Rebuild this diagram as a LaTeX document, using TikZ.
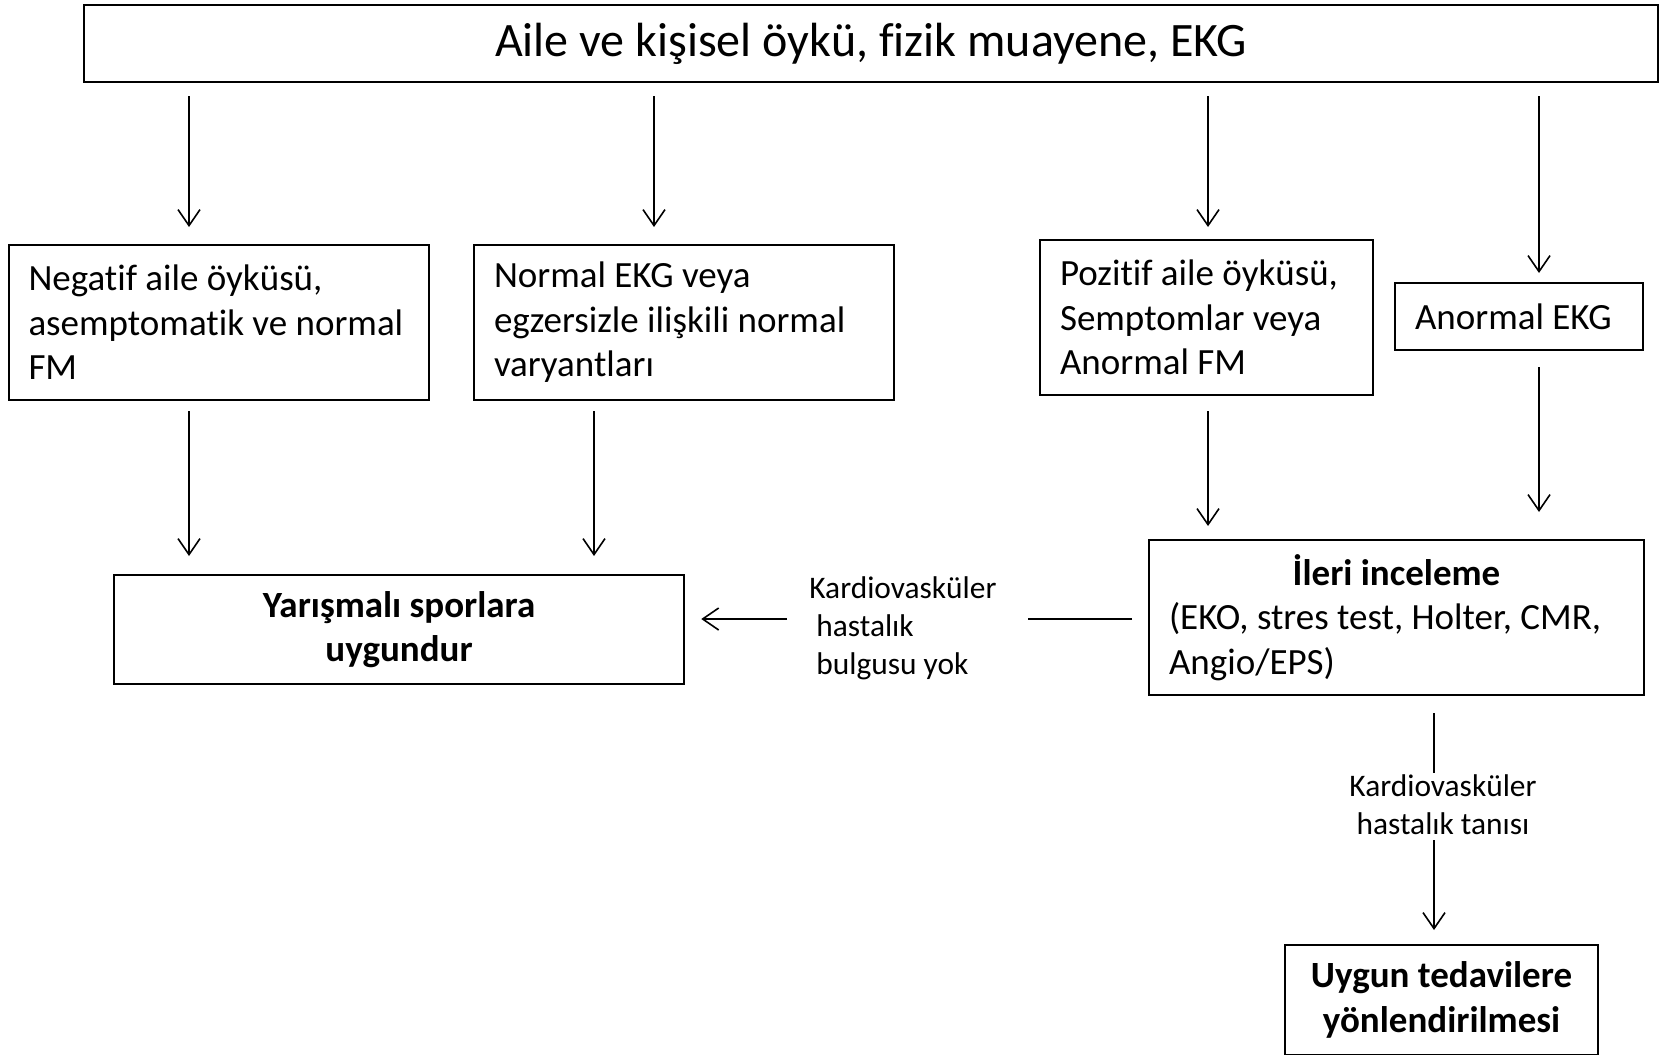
\documentclass[tikz,border=0pt]{standalone}
\usepackage{fontspec}
\setmainfont{Carlito}[Ligatures=CommonOff]
\usetikzlibrary{arrows.meta, calc}

\begin{document}
\begin{tikzpicture}[x=0.5pt, y={(0pt,-0.5pt)}, >={Straight Barb[length=8pt,width=11pt]}, font=\fontsize{18.5}{22.25}\selectfont]
	\tikzstyle{box} = [draw=black, line width=1pt, rectangle, inner xsep=10pt, inner ysep=0pt, align=flush left]
	\tikzstyle{link} = [line width=0.8pt]
	\tikzstyle{lbl} = [inner sep=0pt, font=\fontsize{15.7}{19}\selectfont]
	
	\useasboundingbox (0,0) rectangle (1663,1054);
	
	\coordinate (c1) at (189,0);
	\coordinate (c2) at (654,0);
	\coordinate (c3) at (1208,0);
	\coordinate (c4) at (1539,0);
	\coordinate (c5) at (594,0);
	\coordinate (cdx) at (1434,0);
	\coordinate (row) at (0,619);
	
	\node[box, align=flush center, text width=767pt, minimum height=38.5pt, font=\fontsize{24}{27}\selectfont] at (871, 44) (top) {Aile ve kişisel öykü, fizik muayene, EKG};
	\node[box, text width=190pt, minimum height=77.5pt]	at (218.5, 322.5)	(neg)	{Negatif aile öyküsü,\\\mbox{asemptomatik ve normal}\\FM};
	\node[box, text width=190pt, minimum height=77.5pt]	at (684, 322.5)	(norm)	{Normal EKG veya\\\mbox{egzersizle ilişkili normal}\\varyantları};
	\node[box, text width=146.5pt, minimum height=77.5pt]	at (1206.5, 317.5)	(pos)	{Pozitif aile öyküsü,\\Semptomlar veya\\Anormal FM};
	\node[box, text width=104pt, minimum height=33.5pt]	at (1519, 316.5)	(abn)	{Anormal EKG};
	\node[box, align=flush center, text width=265.25pt, minimum height=54.5pt, font=\fontsize{18.5}{22.25}\selectfont\bfseries]	at (399, 629.5)	(fit)	{Yarışmalı sporlara\\uygundur};
	\node[box, text width=227.5pt, minimum height=77.5pt]	at (1396.5, 617.5)	(adv)	{\makebox[227.5pt]{\bfseries İleri inceleme}\\\mbox{(EKO, stres test, Holter, CMR,}\\Angio/EPS)};
	\node[box, align=flush center, text width=136.5pt, minimum height=55pt, font=\fontsize{18.5}{22.25}\selectfont\bfseries]	at (1441.5, 1000)	(treat)	{Uygun tedavilere\\yönlendirilmesi};
	
	\node[lbl, anchor=west, align=left]	at (809, 628)	(none)	{Kardiovasküler\\\hspace*{3.5pt}hastalık\\\hspace*{3.5pt}bulgusu yok};
	\node[lbl, align=center]	at (1443, 805)	(dx)	{Kardiovasküler\\hastalık tanısı};
	
	\path[link]
	(top.south -| c1) edge[->, shorten <=6.5pt, shorten >=8.5pt] (neg.north -| c1)
	(top.south -| c2) edge[->, shorten <=6.5pt, shorten >=8.5pt] (norm.north -| c2)
	(top.south -| c3) edge[->, shorten <=6.5pt, shorten >=6pt] (pos.north -| c3)
	(top.south -| c4) edge[->, shorten <=6.5pt, shorten >=4.5pt] (abn.north -| c4)
	(neg.south -| c1) edge[->, shorten <=5pt, shorten >=9pt] (fit.north -| c1)
	(norm.south -| c5) edge[->, shorten <=5pt, shorten >=9pt] (fit.north -| c5)
	(pos.south -| c3) edge[->, shorten <=7.5pt, shorten >=6.5pt] (adv.north -| c3)
	(abn.south -| c4) edge[->, shorten <=8pt, shorten >=13.5pt] (adv.north -| c4)
	(adv.west |- row) edge[shorten <=8pt, shorten >=15.5pt] (none.east |- row)
	(none.west |- row) edge[->, shorten <=11pt, shorten >=8pt] (fit.east |- row)
	(adv.south -| cdx) edge[shorten <=8.5pt, shorten >=1pt] (dx.north -| cdx)
	(dx.south -| cdx) edge[->, shorten <=2.5pt, shorten >=7pt] (treat.north -| cdx);
	
\end{tikzpicture}
\end{document}
